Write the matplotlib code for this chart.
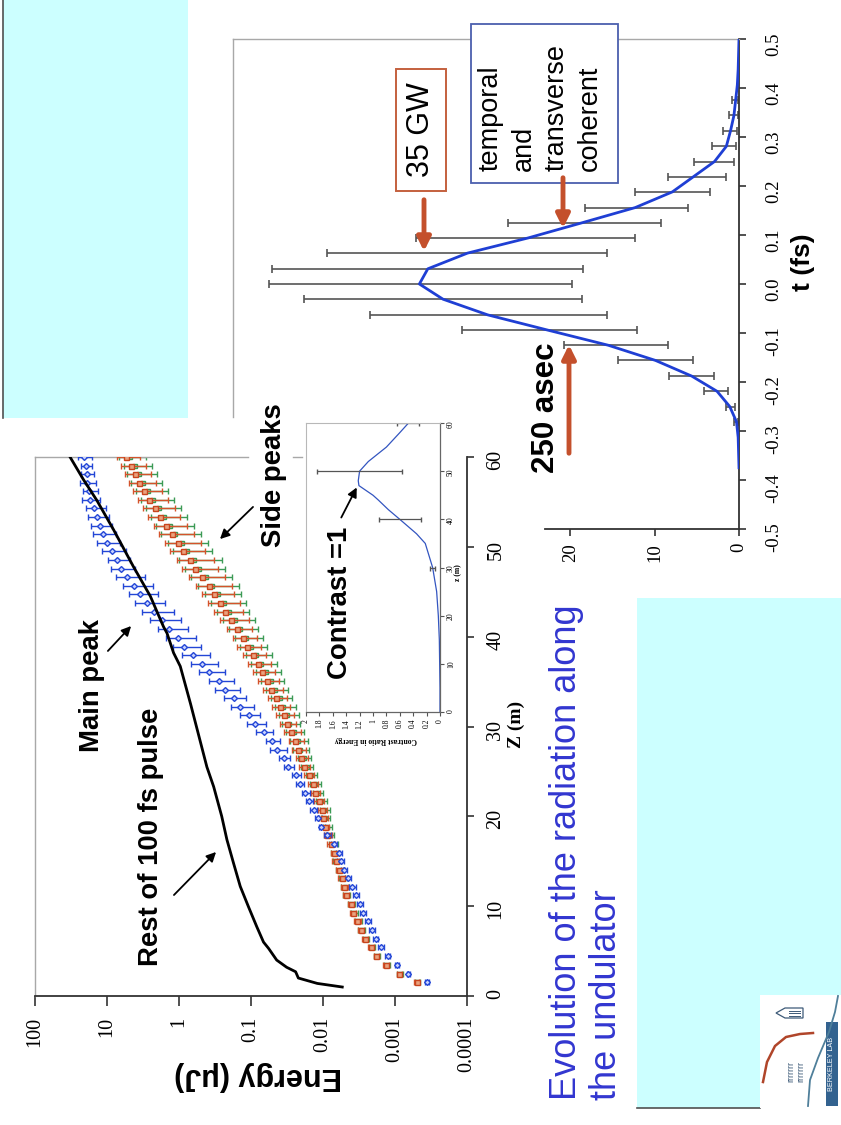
import numpy as np
import matplotlib
matplotlib.use("Agg")
import matplotlib.pyplot as plt
from matplotlib.patches import Rectangle, Polygon
from matplotlib.ticker import NullLocator

plt.rcParams['font.family'] = ['Liberation Serif', 'DejaVu Serif']
SANS = ['Liberation Sans', 'DejaVu Sans']
SERIF = ['Liberation Serif', 'DejaVu Serif']

# ---------------- data: energy along the undulator ----------------
z_positions = [60.0, 59.0, 58.1, 57.1, 56.2, 55.2, 54.3, 53.3, 52.3, 51.4,
               50.4, 49.5, 48.5, 47.5, 46.6, 45.6, 44.7, 43.7, 42.8, 41.8,
               40.8, 39.9, 38.9, 38.0, 37.0, 36.1, 35.1, 34.1, 33.2, 32.2,
               31.3, 30.3, 29.4, 28.4, 27.4, 26.5, 25.5, 24.6, 23.6, 22.6,
               21.7, 20.7, 19.8, 18.8, 17.9, 16.9, 15.9, 15.0, 14.0, 13.1,
               12.1, 11.2, 10.2, 9.2, 8.3, 7.3, 6.4, 5.4, 4.4, 3.5,
               2.5, 1.6]

main_peak_energy = [20.8, 19.5, 19.1, 18.7, 17.6, 17.2, 15.1, 13.9, 12.5, 11.5,
                    10.1, 8.6, 7.3, 6.4, 5.3, 4.2, 3.47, 2.80, 2.21, 1.73,
                    1.36, 1.04, 0.85, 0.64, 0.48, 0.38, 0.28, 0.228, 0.175, 0.141,
                    0.108, 0.087, 0.067, 0.051, 0.043, 0.035, 0.0303, 0.0237, 0.0211, 0.0176,
                    0.0155, 0.0135, 0.0116, 0.0105, 0.0087, 0.0070, 0.0060, 0.0057, 0.0051, 0.0045,
                    0.0039, 0.0035, 0.0031, 0.0028, 0.0024, 0.0021, 0.00185, 0.00157, 0.00127, 0.00095,
                    0.00065, 0.00036]
main_peak_rel_err = [.225, .174, .194, .251, .235, .276, .310, .324, .324, .357,
                     .357, .371, .343, .357, .437, .446, .433, .443, .468, .459,
                     .446, .437, .424, .420, .403, .403, .380, .380, .334, .357,
                     .314, .291, .261, .225, .261, .185, .159, .143, .135, .127,
                     .119, .111, .104, .096, .096, .096, .104, .104, .104, .104,
                     .104, .096, .096, .096, .088, .088, .080, .080, .072, .064,
                     .056, .050]

side_peak_a_energy = [5.42, 4.62, 4.06, 3.54, 3.05, 2.57, 2.14, 1.82, 1.51, 1.26,
                      1.02, 0.883, 0.698, 0.596, 0.481, 0.388, 0.324, 0.267, 0.228, 0.188,
                      0.157, 0.131, 0.114, 0.0951, 0.0809, 0.0703, 0.060, 0.0522, 0.0449, 0.040,
                      0.0352, 0.0316, 0.0275, 0.0242, 0.0222, 0.020, 0.0182, 0.0158, 0.0139, 0.0128,
                      0.0115, 0.0103, 0.00998, 0.00935, 0.00869, 0.00782, 0.00702, 0.00667, 0.00598, 0.00550,
                      0.00509, 0.00483, 0.00412, 0.00381, 0.00333, 0.00299, 0.00259, 0.00217, 0.00181, 0.00134,
                      0.000875, 0.000502]
side_peak_a_rel_err = [.358, .388, .396, .413, .428, .445, .465, .471, .494, .513,
                       .520, .501, .536, .520, .520, .520, .471, .465, .428, .428,
                       .385, .377, .358, .355, .358, .341, .321, .310, .302, .290,
                       .271, .251, .259, .242, .223, .190, .168, .160, .155, .150,
                       .145, .140, .135, .130, .125, .120, .120, .115, .115, .110,
                       .110, .105, .105, .100, .100, .095, .095, .090, .090, .085,
                       .080, .080]

side_peak_b_energy = [4.82, 4.11, 3.61, 3.15, 2.71, 2.29, 1.90, 1.62, 1.34, 1.12,
                      0.908, 0.786, 0.621, 0.530, 0.428, 0.345, 0.288, 0.238, 0.203, 0.167,
                      0.140, 0.117, 0.101, 0.0846, 0.0720, 0.0626, 0.0534, 0.0465, 0.0400, 0.0356,
                      0.0313, 0.0294, 0.0256, 0.0225, 0.0206, 0.0186, 0.0169, 0.0147, 0.0129, 0.0119,
                      0.0107, 0.00958, 0.00928, 0.00870, 0.00808, 0.00727, 0.00686, 0.00652, 0.00584, 0.00537,
                      0.00497, 0.00472, 0.00403, 0.00372, 0.00325, 0.00292, 0.00253, 0.00212, 0.00177, 0.00131,
                      0.000855, 0.000490]
side_peak_b_rel_err = [.399, .431, .439, .457, .473, .491, .512, .520, .544, .564,
                       .570, .551, .587, .570, .570, .570, .520, .512, .473, .473,
                       .428, .419, .399, .395, .399, .379, .358, .345, .336, .324,
                       .303, .280, .290, .271, .250, .213, .190, .180, .175, .170,
                       .165, .160, .150, .145, .140, .135, .130, .130, .125, .125,
                       .120, .120, .115, .115, .110, .110, .105, .100, .100, .095,
                       .090, .090]

rest_z = [1.0, 1.4, 2.0, 2.7, 3.2, 4.0, 5.3, 6.0, 7.7, 9.9, 12.2, 14.8, 17.4, 20.0,
          23.3, 25.5, 32.5, 36.7, 38.2, 40.4, 41.1, 44.5, 47.8, 51.9, 55.2, 57.5, 60.0]
rest_energy = [0.0054, 0.012, 0.022, 0.024, 0.032, 0.044, 0.057, 0.067, 0.083, 0.108,
               0.141, 0.175, 0.216, 0.255, 0.33, 0.41, 0.69, 0.96, 1.19, 1.47, 1.64,
               2.5, 4.3, 8.1, 13.9, 21.3, 32.6]

energy_ticks = [100, 10, 1, 0.1, 0.01, 0.001, 0.0001]
energy_tick_labels = ['100', '10', '1', '0.1', '0.01', '0.001', '0.0001']
z_ticks = [0, 10, 20, 30, 40, 50, 60]

# ---------------- data: contrast ratio inset ----------------
contrast_z = [0, 5, 10, 15, 20, 25, 30, 35, 37, 40, 42, 44, 45, 47, 48, 50, 52, 55, 58, 60]
contrast_ratio = [0.0, 0.0, 0.005, 0.01, 0.025, 0.05, 0.11, 0.22, 0.35, 0.6, 0.77, 0.92,
                  1.0, 1.21, 1.22, 1.2, 1.07, 0.8, 0.6, 0.47]
contrast_err_z = [30, 40, 50, 60]
contrast_err_mid = [0.11, 0.6, 1.2, 0.47]
contrast_err_low = [0.075, 0.29, 0.56, 0.32]
contrast_err_high = [0.15, 0.905, 1.84, 0.64]
contrast_ticks = [0, 0.2, 0.4, 0.6, 0.8, 1.0, 1.2, 1.4, 1.6, 1.8, 2.0]
contrast_tick_labels = ['0', '0.2', '0.4', '0.6', '0.8', '1', '1.2', '1.4', '1.6', '1.8', '2']

# ---------------- data: output power profile ----------------
t_fs = [-0.375, -0.344, -0.313, -0.281, -0.25, -0.219, -0.188, -0.156, -0.125, -0.094,
        -0.063, -0.031, 0.0, 0.031, 0.063, 0.094, 0.125, 0.156, 0.188, 0.219,
        0.25, 0.281, 0.313, 0.344, 0.375, 0.406, 0.438, 0.469, 0.5]
power_gw = [0.0, 0.05, 0.1, 0.3, 1.1, 2.6, 5.6, 9.9, 15.5, 22.7,
            29.8, 35.1, 37.9, 36.9, 32.2, 25.0, 18.6, 12.3, 7.9, 5.4,
            2.9, 1.5, 1.0, 0.6, 0.4, 0.2, 0.1, 0.05, 0.0]
bar_t_fs = [-0.281, -0.25, -0.219, -0.188, -0.156, -0.125, -0.094, -0.063, -0.031, 0.0,
            0.031, 0.063, 0.094, 0.125, 0.156, 0.188, 0.219, 0.25, 0.281, 0.313,
            0.344, 0.375]
bar_power = [0.3, 1.1, 2.6, 5.6, 9.9, 15.5, 22.7, 29.8, 35.1, 37.9,
             36.9, 32.2, 25.0, 18.6, 12.3, 7.9, 5.4, 2.9, 1.5, 1.0,
             0.6, 0.4]
bar_low = [0.1, 0.5, 1.3, 3.0, 5.4, 8.4, 12.1, 15.7, 18.6, 19.8,
           18.5, 15.6, 12.3, 9.2, 6.1, 3.4, 1.5, 0.6, 0.35, 0.25, 0.1, 0.1]
bar_high = [0.6, 1.6, 4.1, 8.3, 14.3, 20.8, 32.9, 43.7, 51.6, 55.7,
            55.4, 48.8, 38.3, 27.4, 18.3, 12.3, 8.4, 5.3, 3.2, 1.9, 1.2, 0.8]
t_ticks = [-0.5, -0.4, -0.3, -0.2, -0.1, 0.0, 0.1, 0.2, 0.3, 0.4, 0.5]
t_tick_labels = ['-0.5', '-0.4', '-0.3', '-0.2', '-0.1', '0.0', '0.1', '0.2', '0.3', '0.4', '0.5']
power_ticks = [0, 10, 20]

# ---------------- figure ----------------
W, H = 841, 1125
fig = plt.figure(figsize=(W / 100, H / 100), dpi=100)
fig.patch.set_facecolor('white')


def px_axes(left, top, right, bottom, **kw):
    return fig.add_axes([left / W, 1 - bottom / H, (right - left) / W, (bottom - top) / H], **kw)


def overlay(zorder):
    a = fig.add_axes([0, 0, 1, 1], zorder=zorder)
    a.set_xlim(0, W)
    a.set_ylim(H, 0)
    a.axis('off')
    a.patch.set_alpha(0)
    return a


# slide background
bg = overlay(-5)
bg.add_patch(Rectangle((3, 0), 185, 418, facecolor='#ccffff', edgecolor='none'))
bg.plot([3, 3], [0, 418], color='#505050', lw=1.2)
bg.add_patch(Rectangle((637, 598), 204, 510, facecolor='#ccffff', edgecolor='none'))
bg.plot([637, 760], [1108, 1108], color='#505050', lw=1.2)

# logo
bg.add_patch(Rectangle((760, 995), 81, 113, facecolor='white', edgecolor='none', zorder=2))
bg.add_patch(Rectangle((826, 1022), 12, 84, facecolor='#33628f', edgecolor='none', zorder=3))
bg.text(832, 1064, 'BERKELEY LAB', rotation=90, color='white', fontsize=5.2, family=SANS,
        ha='center', va='center', zorder=4)
bg.plot([838, 835, 829, 818, 810, 808], [996, 1012, 1032, 1058, 1080, 1106],
        color='#4f7f9a', lw=1.3, zorder=3)
bg.plot([763, 767, 775, 786, 800, 813], [1082, 1062, 1046, 1037, 1034, 1033],
        color='#b0452a', lw=1.8, zorder=3)
for xc in (791, 801):
    bg.text(xc, 1072, 'rrrrrrr', rotation=90, color='#3d5a78', fontsize=6.5, family=SANS,
            ha='center', va='center', zorder=3)
bg.add_patch(Polygon([[776, 1013], [785, 1008], [803, 1008], [803, 1018], [785, 1018]],
                     closed=True, facecolor='white', edgecolor='#3d5a78', lw=0.9, zorder=3))
for yy in (1010.5, 1013, 1015.5):
    bg.plot([789, 800], [yy, yy], color='#3d5a78', lw=0.7, zorder=4)

# slide title
bg.text(549, 1100, 'Evolution of the radiation along\nthe undulator', rotation=90,
        color='#3236d0', fontsize=26, family=SANS, ha='left', va='bottom',
        multialignment='left', linespacing=1.2)

# ---------------- energy vs z ----------------
ax = px_axes(35, 457, 467, 996)
ax.patch.set_alpha(0)
ax.set_xscale('log')
ax.set_xlim(100, 1e-4)
ax.set_ylim(0, 60)

zp = np.array(z_positions)
gE = np.array(side_peak_b_energy)
rE = np.array(side_peak_a_energy)
bE = np.array(main_peak_energy)
ax.errorbar(gE, zp, xerr=gE * np.array(side_peak_b_rel_err), fmt='s', ms=3.0,
            color='#3c9a55', mfc='#a8d8b0', mec='#3c9a55', ecolor='#3c9a55',
            elinewidth=1.0, capsize=2.2, capthick=1.0, zorder=2)
ax.errorbar(rE, zp, xerr=rE * np.array(side_peak_a_rel_err), fmt='s', ms=3.6,
            color='#d4532b', mfc='#e9a27e', mec='#c8451e', ecolor='#d4532b',
            elinewidth=1.0, capsize=2.2, capthick=1.0, zorder=3)
ax.errorbar(bE, zp, xerr=bE * np.array(main_peak_rel_err), fmt='D', ms=3.0,
            color='#2346d6', mfc='#c9d3ff', mec='#2346d6', ecolor='#2346d6',
            elinewidth=1.0, capsize=2.2, capthick=1.0, zorder=3)
ax.plot(rest_energy, rest_z, color='black', lw=2.0, zorder=4)

ax.set_xticks(energy_ticks)
ax.set_xticklabels(energy_tick_labels)
ax.xaxis.set_minor_locator(NullLocator())
ax.set_yticks(z_ticks)
ax.set_yticklabels([str(v) for v in z_ticks])
ax.yaxis.tick_right()
ax.tick_params(axis='x', direction='out', length=7, width=1.2, labelsize=14.5,
               labelrotation=90, pad=8, color='#333333')
ax.tick_params(axis='y', direction='out', length=5, width=1.2, labelsize=14.5,
               labelrotation=90, pad=9, color='#333333')
for s in ('left', 'top'):
    ax.spines[s].set_color('#a8a8a8')
    ax.spines[s].set_linewidth(1.0)
ax.spines['top'].set_bounds(0.11, 100)
for s in ('right', 'bottom'):
    ax.spines[s].set_color('#333333')
    ax.spines[s].set_linewidth(1.3)
ax.plot([0.0258, 0.0194], [60, 60], color='#a8a8a8', lw=1.0, clip_on=False)

# ---------------- contrast inset ----------------
ins = px_axes(306, 423, 440, 712, zorder=5)
ins.set_facecolor('white')
ins.set_xlim(2, 0)
ins.set_ylim(0, 60)
ins.plot(contrast_ratio, contrast_z, color='#3355c0', lw=0.9)
ins.errorbar(contrast_err_mid, contrast_err_z,
             xerr=[np.subtract(contrast_err_mid, contrast_err_low),
                   np.subtract(contrast_err_high, contrast_err_mid)],
             fmt='none', ecolor='#555555', elinewidth=0.9, capsize=1.8)
ins.set_xticks(contrast_ticks)
ins.set_xticklabels(contrast_tick_labels)
ins.set_yticks(z_ticks)
ins.set_yticklabels([str(v) for v in z_ticks])
ins.yaxis.tick_right()
ins.tick_params(axis='both', direction='out', length=3, width=0.8, labelsize=5.5,
                labelrotation=90, pad=2, color='#555555')
for s in ('left', 'top'):
    ins.spines[s].set_color('#b8b8b8')
    ins.spines[s].set_linewidth(0.8)
for s in ('right', 'bottom'):
    ins.spines[s].set_color('#666666')
    ins.spines[s].set_linewidth(0.9)

# ---------------- power vs t ----------------
ax2 = px_axes(233, 39, 739, 529)
ax2.patch.set_alpha(0)
ax2.set_xlim(60, 0)
ax2.set_ylim(-0.5, 0.5)
bp = np.array(bar_power)
ax2.errorbar(bp, bar_t_fs, xerr=[bp - np.array(bar_low), np.array(bar_high) - bp],
             fmt='none', ecolor='#555555', elinewidth=1.2, capsize=3, capthick=1.2, zorder=2)
ax2.plot(power_gw, t_fs, color='#1f3fd4', lw=2.0, zorder=3)
ax2.set_yticks(t_ticks)
ax2.set_yticklabels(t_tick_labels)
ax2.yaxis.tick_right()
ax2.set_xticks(power_ticks)
ax2.set_xticklabels([str(v) for v in power_ticks])
ax2.tick_params(axis='y', direction='out', length=5, width=1.2, labelsize=13.5,
                labelrotation=90, pad=14, color='#333333')
ax2.tick_params(axis='x', direction='out', length=5, width=1.2, labelsize=13.5,
                labelrotation=90, pad=5, color='#333333')
for s in ('left', 'top'):
    ax2.spines[s].set_color('#a8a8a8')
    ax2.spines[s].set_linewidth(1.0)
ax2.spines['left'].set_bounds(-0.271, 0.5)
for s in ('right', 'bottom'):
    ax2.spines[s].set_color('#333333')
    ax2.spines[s].set_linewidth(1.3)
ax2.spines['bottom'].set_bounds(0, 23)

# ---------------- labels and call-outs ----------------
ov = overlay(20)
bold = dict(family=SANS, fontweight='bold', color='black', ha='center', va='center')
ov.text(258, 1076, 'Energy (\u03bcJ)', rotation=180, fontsize=22, **bold)
ov.text(516, 724, 'Z (m)', rotation=90, fontsize=14, family=SERIF,
        fontweight='bold', ha='center', va='center')
ov.text(803, 262, 't (fs)', rotation=90, fontsize=19, **bold)
ov.text(92, 686, 'Main peak', rotation=90, fontsize=19.8, **bold)
ov.text(151, 837, 'Rest of 100 fs pulse', rotation=90, fontsize=19.8, **bold)
ov.text(274, 475, 'Side peaks', rotation=90, fontsize=19.8, **bold)
ov.text(340, 603, 'Contrast =1', rotation=90, fontsize=19.8, **bold)
ov.text(546, 408, '250 asec', rotation=90, fontsize=22.5, **bold)
ov.text(376, 740, 'Contrast Ratio in Energy', rotation=180, fontsize=5.5,
        family=SERIF, fontweight='bold', ha='center', va='center')
ov.text(458, 573, 'z (m)', rotation=90, fontsize=5.5,
        family=SERIF, fontweight='bold', ha='center', va='center')

black_arrow = dict(arrowstyle='-|>', color='black', lw=1.3, mutation_scale=14)
ov.annotate('', xy=(133, 624), xytext=(106, 653), arrowprops=black_arrow)
ov.annotate('', xy=(218, 850), xytext=(172, 897), arrowprops=black_arrow)
ov.annotate('', xy=(218, 541), xytext=(255, 505), arrowprops=black_arrow)
ov.annotate('', xy=(358, 485), xytext=(340, 520), arrowprops=black_arrow)

ov.add_patch(Rectangle((396, 69), 50, 122, facecolor='white', edgecolor='#c4603e', lw=1.4))
ov.text(421, 130, '35 GW', rotation=90, fontsize=22, family=SANS, ha='center', va='center')
ov.add_patch(Rectangle((471, 24), 147, 159, facecolor='white', edgecolor='#4b5fae', lw=1.3))
ov.text(478, 171, 'temporal\nand\ntransverse\ncoherent', rotation=90, fontsize=19.5,
        family=SANS, ha='left', va='bottom', multialignment='left', linespacing=1.35)

red_arrow = dict(arrowstyle='-|>', color='#c4502c', lw=3.5, mutation_scale=20)
ov.annotate('', xy=(424, 254), xytext=(424, 197), arrowprops=red_arrow)
ov.annotate('', xy=(563, 231), xytext=(563, 175), arrowprops=red_arrow)
ov.annotate('', xy=(569, 342), xytext=(569, 456), arrowprops=red_arrow)

fig.savefig('out.png', dpi=100, facecolor='white')
